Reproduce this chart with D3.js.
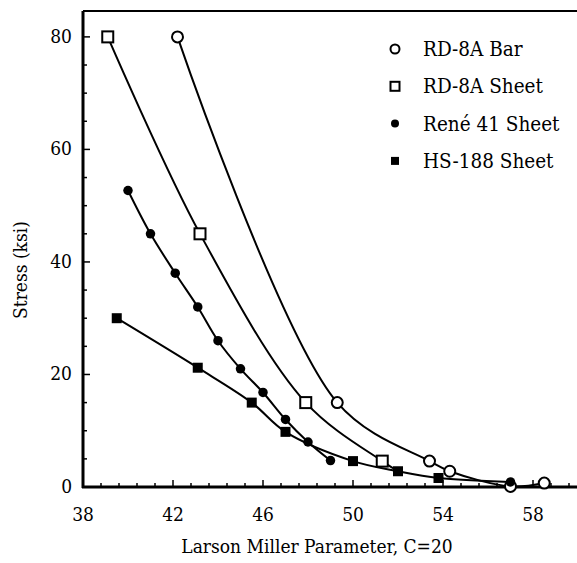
<!DOCTYPE html>
<html>
<head>
<meta charset="utf-8">
<script src="https://cdn.jsdelivr.net/npm/d3@7"></script>
<style>
  html, body { margin: 0; padding: 0; background: #fff; }
  svg { display: block; }
  svg text { font-family: "DejaVu Serif Condensed", "DejaVu Serif", serif; }
</style>
</head>
<body>
<svg id="chart" width="577" height="563"></svg>
<script>
// Creep-rupture data: [Larson-Miller parameter, stress in ksi]
const rd8aBar   = [[42.2, 80], [49.3, 15], [53.4, 4.6], [54.3, 2.8], [57.0, 0.1], [58.5, 0.7]];
const rd8aSheet = [[39.1, 80], [43.2, 45], [47.9, 15], [51.3, 4.6]];
const rene41    = [[40.0, 52.7], [41.0, 45], [42.1, 38], [43.1, 32], [44.0, 26], [45.0, 21],
                   [46.0, 16.8], [47.0, 12], [48.0, 8], [49.0, 4.7]];
const rene41Long = [[57.0, 0.9]];
const hs188     = [[39.5, 30], [43.1, 21.2], [45.5, 15], [47.0, 9.8], [50.0, 4.6], [52.0, 2.8], [53.8, 1.6]];

const xTickLabels = [38, 42, 46, 50, 54, 58];
const yTickLabels = [0, 20, 40, 60, 80];
const legendNames = ["RD-8A Bar", "RD-8A Sheet", "René 41 Sheet", "HS-188 Sheet"];

const svg = d3.select("#chart");
const plotL = 83, plotR = 578, plotT = 11, plotB = 487;

const x = d3.scaleLinear().domain([38, 60]).range([plotL, plotR]);
const y = d3.scaleLinear().domain([0, 84.6]).range([plotB, plotT]);

// Frame: thinner top/right edges
svg.append("path")
  .attr("d", `M${plotL},${plotT}H${plotR}V${plotB}`)
  .attr("fill", "none").attr("stroke", "#000").attr("stroke-width", 2);

// X ticks every 0.8 units, longer at the labelled values
const xTicks = d3.range(0, 28).map(i => 38 + i * 0.8).filter(v => v <= 60);
svg.append("g").selectAll("line").data(xTicks).join("line")
  .attr("x1", d => x(d)).attr("x2", d => x(d))
  .attr("y1", plotB)
  .attr("y2", (d, i) => plotB - (i % 5 === 0 ? 7 : 4))
  .attr("stroke", "#000").attr("stroke-width", 1.5);

// Y ticks every 5 ksi, longer every 20
const yTicks = d3.range(0, 85, 5);
svg.append("g").selectAll("line").data(yTicks).join("line")
  .attr("y1", d => y(d)).attr("y2", d => y(d))
  .attr("x1", plotL)
  .attr("x2", d => plotL + (d % 20 === 0 ? 7 : 4))
  .attr("stroke", "#000").attr("stroke-width", 1.5);

// Heavy left and bottom axes
svg.append("line").attr("x1", plotL).attr("x2", plotL).attr("y1", plotT).attr("y2", plotB + 1)
  .attr("stroke", "#000").attr("stroke-width", 3);
svg.append("line").attr("x1", plotL - 1).attr("x2", plotR).attr("y1", plotB).attr("y2", plotB)
  .attr("stroke", "#000").attr("stroke-width", 3);

// Tick labels
svg.append("g").selectAll("text").data(xTickLabels).join("text")
  .attr("x", d => x(d)).attr("y", 521)
  .attr("text-anchor", "middle").attr("font-size", 19).text(d => d);
svg.append("g").selectAll("text").data(yTickLabels).join("text")
  .attr("x", 72).attr("y", d => y(d) + 6)
  .attr("text-anchor", "end").attr("font-size", 19).text(d => d);

// Axis titles
svg.append("text").attr("x", 317).attr("y", 553).attr("text-anchor", "middle")
  .attr("font-size", 19).text("Larson Miller Parameter, C=20");
svg.append("text").attr("transform", "translate(27,270) rotate(-90)")
  .attr("text-anchor", "middle").attr("font-size", 19).text("Stress (ksi)");

// Fitted curves through each data set
const line = d3.line().x(d => x(d[0])).y(d => y(d[1])).curve(d3.curveCatmullRom.alpha(0.5));
const curves = [
  rd8aBar,
  rd8aSheet.concat([hs188[5]]),
  rene41,
  hs188.concat(rene41Long)
];
svg.append("g").selectAll("path").data(curves).join("path")
  .attr("d", d => line(d))
  .attr("fill", "none").attr("stroke", "#000").attr("stroke-width", 2);

// Marker shapes
function marker(g, kind, size) {
  const s = size;
  if (kind === "openCircle") {
    g.append("circle").attr("r", s * 0.5).attr("fill", "#fff").attr("stroke", "#000").attr("stroke-width", 2);
  } else if (kind === "openSquare") {
    g.append("rect").attr("x", -s / 2).attr("y", -s / 2).attr("width", s).attr("height", s)
      .attr("fill", "#fff").attr("stroke", "#000").attr("stroke-width", 2);
  } else if (kind === "filledCircle") {
    g.append("circle").attr("r", s * 0.5).attr("fill", "#000");
  } else {
    g.append("rect").attr("x", -s / 2).attr("y", -s / 2).attr("width", s).attr("height", s).attr("fill", "#000");
  }
}

// Filled symbols drawn after open ones so they sit on top where they overlap
const markerSets = [
  { data: rd8aBar, kind: "openCircle", size: 11 },
  { data: rd8aSheet, kind: "openSquare", size: 11 },
  { data: rene41.concat(rene41Long), kind: "filledCircle", size: 9.5 },
  { data: hs188, kind: "filledSquare", size: 10 }
];
markerSets.forEach(set => {
  svg.append("g").selectAll("g").data(set.data).join("g")
    .attr("transform", d => `translate(${x(d[0])},${y(d[1])})`)
    .each(function () { marker(d3.select(this), set.kind, set.size); });
});

// Legend
const legendKinds = ["openCircle", "openSquare", "filledCircle", "filledSquare"];
const legendSizes = [9, 9, 8, 8];
const legend = svg.append("g").selectAll("g").data(legendNames).join("g")
  .attr("transform", (d, i) => `translate(395,${49 + i * 37.3})`);
legend.each(function (d, i) { marker(d3.select(this), legendKinds[i], legendSizes[i]); });
legend.append("text").attr("x", 28).attr("y", 7).attr("font-size", 20.5).text(d => d);
</script>
</body>
</html>
